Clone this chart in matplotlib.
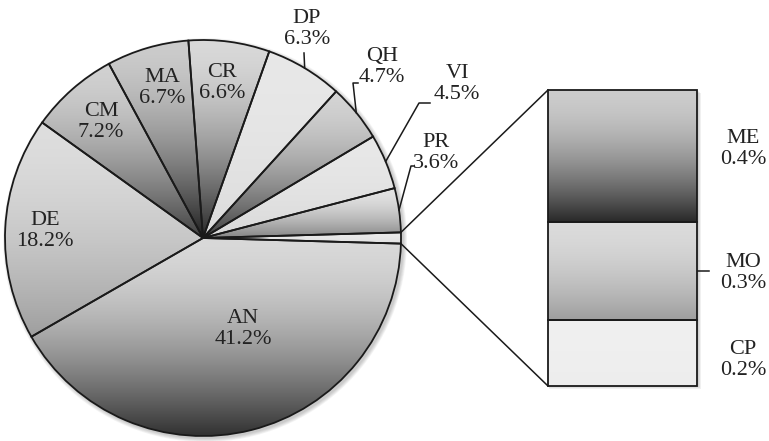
import numpy as np
import matplotlib.pyplot as plt
from matplotlib.patches import Circle

W, H = 769, 441

# slice values (%), clockwise from the bottom of the pie
main_labels = ['AN', 'DE', 'CM', 'MA', 'CR', 'DP', 'QH', 'VI', 'PR']
main_values = [41.2, 18.2, 7.2, 6.7, 6.6, 6.3, 4.7, 4.5, 3.6]
# small slices broken out into the bar, top to bottom
sub_labels = ['ME', 'MO', 'CP']
sub_values = [0.4, 0.3, 0.2]

# grey gradient (top, bottom) used to fill every piece
main_shades = [(0.85, 0.19), (0.87, 0.62), (0.82, 0.25), (0.80, 0.12), (0.85, 0.15),
               (0.91, 0.86), (0.83, 0.25), (0.91, 0.85), (0.89, 0.52)]
other_shade = (0.92, 0.88)
sub_shades = [(0.80, 0.16), (0.86, 0.62), (0.94, 0.93)]

# label centres in pixels from the top-left corner
label_pos = {'AN': (243, 329), 'DE': (45, 231), 'CM': (101, 122), 'MA': (162, 88),
             'CR': (222, 83), 'DP': (307, 29), 'QH': (382, 67), 'VI': (457, 84),
             'PR': (436, 153)}
sub_label_pos = {'ME': (743, 149), 'MO': (743, 273), 'CP': (743, 360)}
# leader lines: label-side points (pixels), the last point is on the slice edge
leaders = {'DP': [(304, 53)], 'QH': [(358, 83), (353, 83)],
           'VI': [(430, 103), (419, 103)], 'PR': [(414, 166), (411, 166)]}

plt.rcParams['font.family'] = ['Liberation Serif', 'DejaVu Serif']
EDGE = '#1a1a1a'
TXT = '#222222'
FS = 16


def px(p):
    return p[0], H - p[1]


def fill_gradient(axis, patch, bbox, shade, z):
    x0, y0, x1, y1 = bbox
    t = np.linspace(0, 1, 256) ** 1.7
    g = (shade[0] + (shade[1] - shade[0]) * t)[:, None]
    img = np.dstack([g, g, g])
    im = axis.imshow(img, extent=(x0, x1, y0, y1), origin='upper', aspect='auto',
                     interpolation='bilinear', zorder=z)
    im.set_clip_path(patch)


fig = plt.figure(figsize=(W / 100, H / 100), dpi=100)
ax = fig.add_axes([0, 0, 1, 1])

cx, cy, R = 203, 203, 198
other = sum(sub_values)
vals = [other] + main_values
total = sum(vals)

wedges, _ = ax.pie(vals, center=(cx, cy), radius=R, startangle=180 * other / total,
                   counterclock=False,
                   wedgeprops=dict(facecolor='none', edgecolor=EDGE, linewidth=1.3, zorder=3))
ax.set_xlim(0, W)
ax.set_ylim(0, H)
ax.set_aspect('equal')
ax.axis('off')

# soft shadow under the pie
for k in range(1, 6):
    ax.add_patch(Circle((cx + 2, cy - 2), R + k * 0.8, color='k', alpha=0.045, zorder=0, lw=0))
ax.add_patch(Circle((cx, cy), R, color='white', zorder=0.5, lw=0))

for w, shade in zip(wedges, [other_shade] + main_shades):
    ext = w.get_path().get_extents()
    fill_gradient(ax, w, (ext.x0, ext.y0, ext.x1, ext.y1), shade, 1)

# labels on the pie
mid = {}
for w, name in zip(wedges[1:], main_labels):
    a = np.deg2rad((w.theta1 + w.theta2) / 2)
    mid[name] = (cx + R * np.cos(a), cy + R * np.sin(a))

for name, v in zip(main_labels, main_values):
    x, y = px(label_pos[name])
    ax.text(x, y, f'{name}\n{v}%', ha='center', va='center', fontsize=FS,
            color=TXT, linespacing=1.1, zorder=5)
    if name in leaders:
        pts = [px(p) for p in leaders[name]] + [mid[name]]
        ax.plot([p[0] for p in pts], [p[1] for p in pts], color=EDGE, lw=1.1, zorder=4)

# bar of the small slices
bx0, by0, bw, bh = 548, 55, 149, 296
ax_bar = fig.add_axes([bx0 / W, by0 / H, bw / W, bh / H])
ax_bar.set_xlim(-0.5, 0.5)
ax_bar.set_ylim(0, other)
ax_bar.axis('off')
bottoms = [sum(sub_values[i + 1:]) for i in range(len(sub_values))]
bars = ax_bar.bar(0, sub_values, width=1, bottom=bottoms, facecolor='none',
                  edgecolor=EDGE, linewidth=1.3, zorder=3)
for b in bars:
    b.set_clip_on(False)
for b, shade in zip(bars, sub_shades):
    bb = b.get_bbox()
    fill_gradient(ax_bar, b, (bb.x0, bb.y0, bb.x1, bb.y1), shade, 1)

# bar shadow
for k in range(1, 4):
    ax.add_patch(plt.Rectangle((bx0 + 1, by0 - k), bw + k, bh, color='k', alpha=0.06,
                               lw=0, zorder=0))

# lines joining the "other" slice to the bar
w0 = wedges[0]
for th, by in [(w0.theta2, by0 + bh), (w0.theta1, by0)]:
    a = np.deg2rad(th)
    ax.plot([cx + R * np.cos(a), bx0], [cy + R * np.sin(a), by], color=EDGE, lw=1.1, zorder=4)

for i, (name, v) in enumerate(zip(sub_labels, sub_values)):
    x, y = px(sub_label_pos[name])
    ax.text(x, y, f'{name}\n{v}%', ha='center', va='center', fontsize=FS,
            color=TXT, linespacing=1.1, zorder=5)
    if name == 'MO':
        ym = by0 + (bottoms[i] + v / 2) / other * bh
        ax.plot([bx0 + bw, bx0 + bw + 12], [ym, ym], color=EDGE, lw=1.1, zorder=4)

fig.savefig('out.png', dpi=100)
